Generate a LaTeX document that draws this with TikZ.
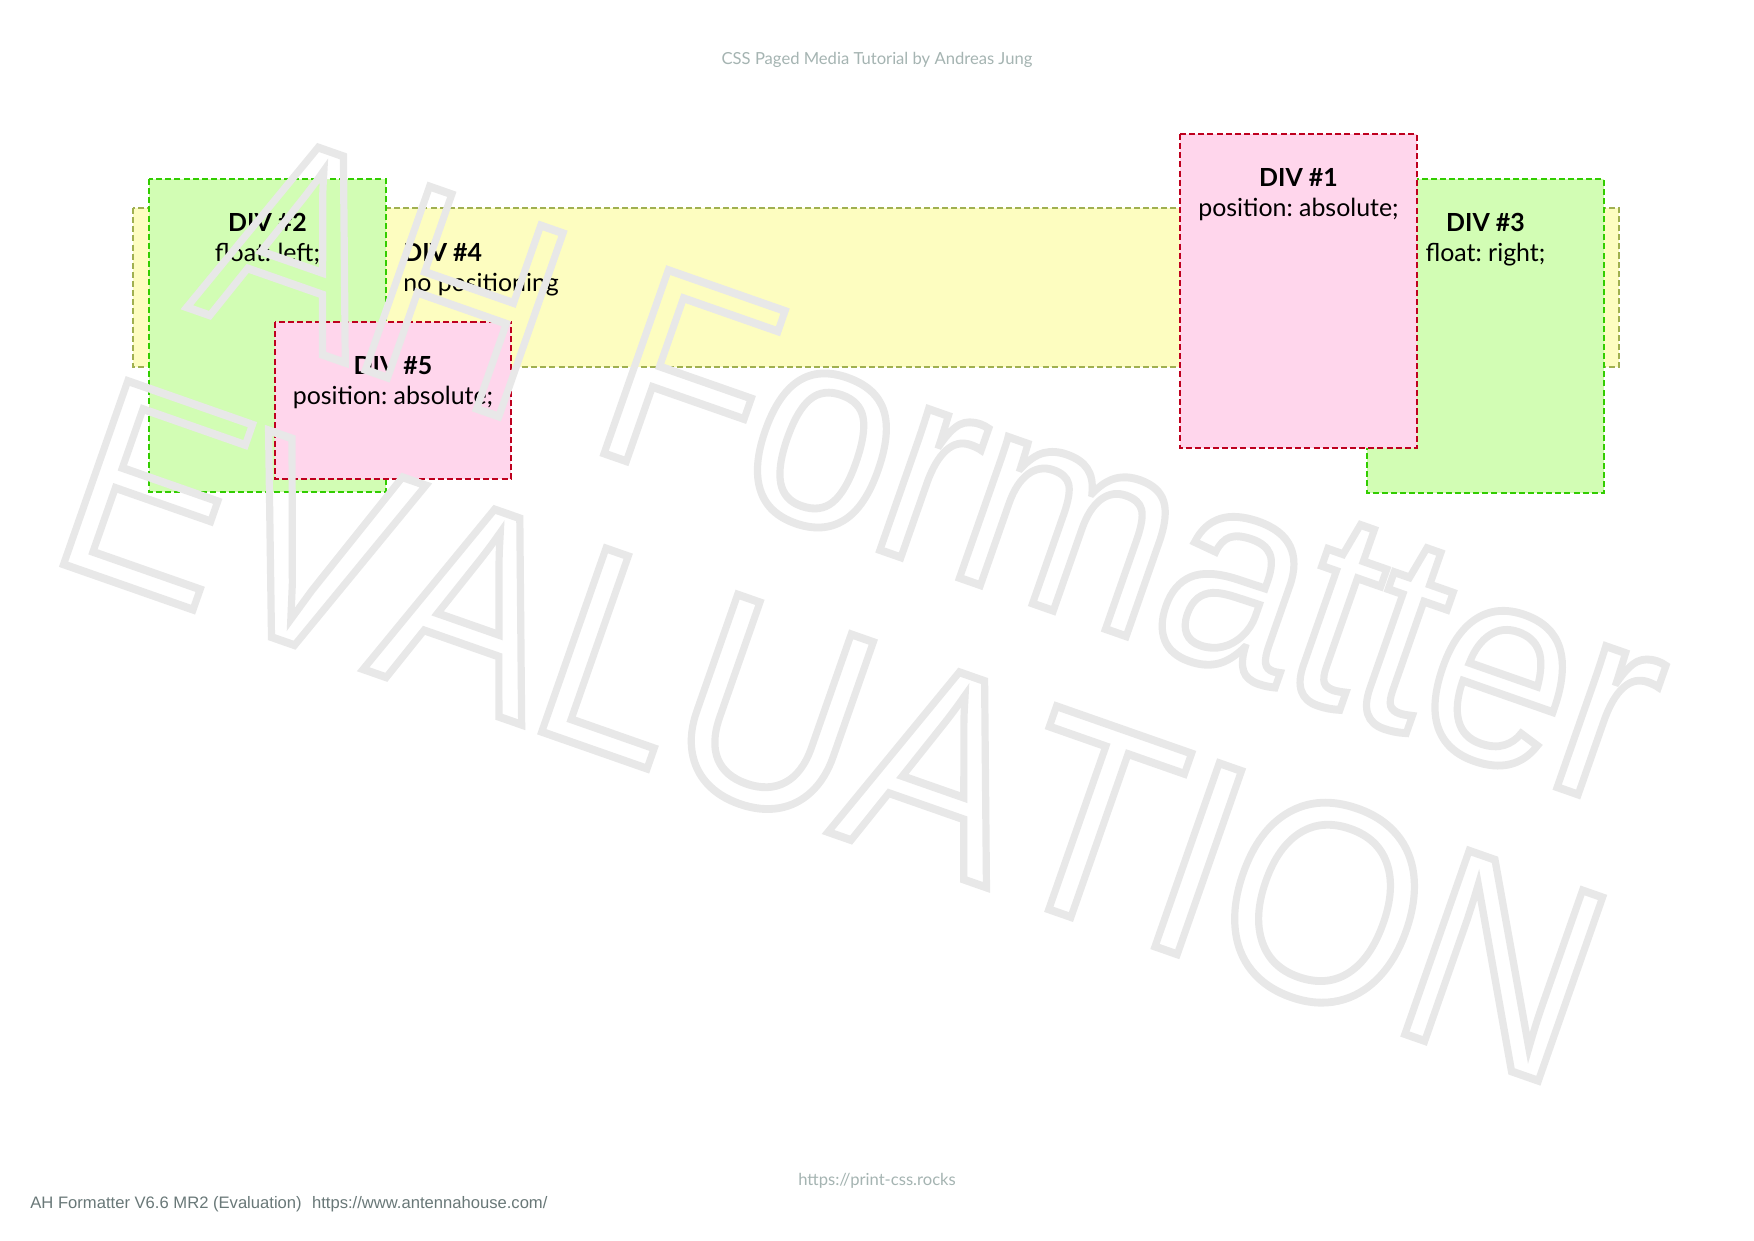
\documentclass[tikz,border=0pt]{standalone}
\usepackage{fontspec}
\setmainfont{Lato}
\newfontfamily\wmfont{Liberation Sans}[Kerning=Off]
\newfontfamily\ahfont{Liberation Sans}
\usetikzlibrary{positioning}
\frenchspacing

\definecolor{yfill}{RGB}{253,253,192}
\definecolor{ydraw}{RGB}{160,176,80}
\definecolor{gfill}{RGB}{210,253,180}
\definecolor{gdraw}{RGB}{50,205,0}
\definecolor{pfill}{RGB}{255,214,236}
\definecolor{pdraw}{RGB}{190,0,30}
\definecolor{headgray}{RGB}{165,180,178}
\definecolor{footgray}{RGB}{105,120,120}
\definecolor{wmgray}{RGB}{232,232,232}

\newcommand\divsize{\fontsize{12}{14.4}\selectfont}
% outlined text: a wide stroke, then a narrow one on the same outline
\newcommand\wmoutline[1]{%
  \rlap{\special{pdf:literal direct 1 Tr 3.8 w}#1}%
  \special{pdf:literal direct 1 Tr 1.6 w}#1\special{pdf:literal direct 0 Tr}}

\begin{document}
\begin{tikzpicture}[x=0.16933mm, y=-0.16933mm,
  box/.style={dash pattern=on 2.9pt off 1.5pt, line width=0.9pt},
  ybox/.style={box, fill=yfill, draw=ydraw},
  gbox/.style={box, fill=gfill, draw=gdraw},
  pbox/.style={box, fill=pfill, draw=pdraw},
  head/.style={anchor=base, inner sep=0, font=\divsize\bfseries},
  body/.style={anchor=base, inner sep=0, font=\divsize},
  wm/.style={anchor=base west, inner sep=0, rotate=-19.3, xscale=0.897,
    text=wmgray, font=\wmfont\fontsize{136}{136}\selectfont}]
  \fill[white] (0,0) rectangle (1754,1240);
  \useasboundingbox (0,0) rectangle (1754,1240);

  % page header and footers
  \node[anchor=base, inner sep=0, text=headgray, font=\fontsize{8}{10}\selectfont] (top) at (877,64.3) {CSS Paged Media Tutorial by Andreas Jung};
  \node[anchor=base, inner sep=0, text=headgray, font=\fontsize{8}{10}\selectfont] (url) at (877,1185) {https://print-css.rocks};
  \node[anchor=base west, inner sep=0, text=footgray, font=\ahfont\fontsize{8}{10}\selectfont] (ah) at (30,1208) {AH Formatter V6.6 MR2 (Evaluation)\hskip5pt https://www.antennahouse.com/};

  % the boxes
  \filldraw[ybox] (133,208) rectangle (1619,367);
  \node[head, anchor=base west] (t4) at (403,261.7) {DIV \#4};
  \node[body, anchor=base west] (s4) at (403,291.7) {no positioning};

  \filldraw[gbox] (149,179) rectangle (386,492);
  \node[head] (t2) at (267.5,231.7) {DIV \#2};
  \node[body] (s2) at (267.5,261.7) {float: left;};

  \filldraw[gbox] (1367,179) rectangle (1604,493);
  \node[head] (t3) at (1485.5,231.7) {DIV \#3};
  \node[body] (s3) at (1485.5,261.7) {float: right;};

  \filldraw[pbox] (275,322) rectangle (511,479);
  \node[head] (t5) at (393,374.5) {DIV \#5};
  \node[body] (s5) at (393,404.5) {position: absolute;};

  \filldraw[pbox] (1180,134) rectangle (1417,448);
  \node[head] (t1) at (1298.5,186.7) {DIV \#1};
  \node[body] (s1) at (1298.5,216.7) {position: absolute;};

  % watermark
  \node[wm] (wm1) at (186,307) {\wmoutline{AH Formatter}};
  \node[wm] (wm2) at (43.6,557.3) {\wmoutline{EVALUATION}};
\end{tikzpicture}
\end{document}
